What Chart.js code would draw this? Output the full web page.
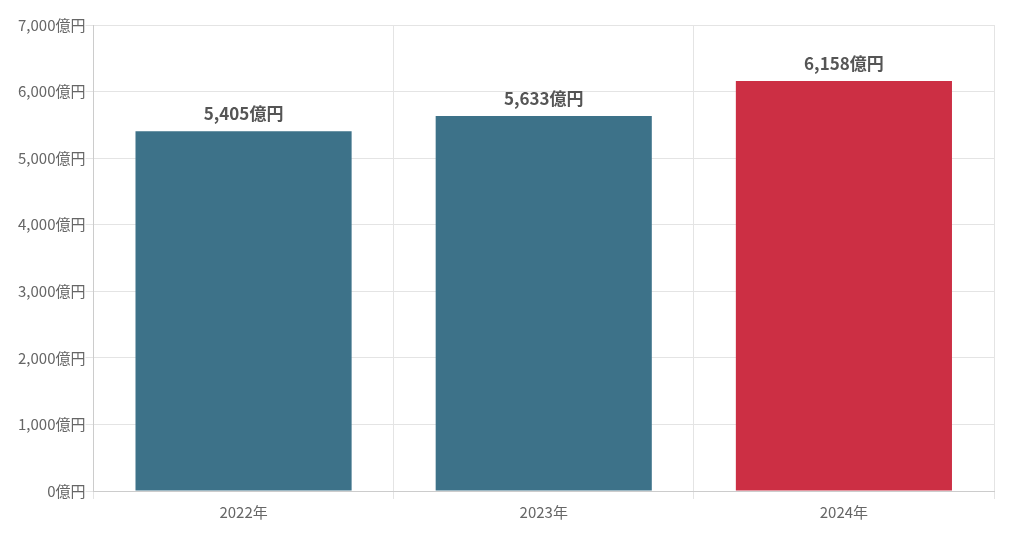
<!DOCTYPE html>
<html><head><meta charset="utf-8">
<script src="https://cdn.jsdelivr.net/npm/chart.js@4"></script>
<style>html,body{margin:0;padding:0;background:#fff}#w{width:1024px;height:537px}</style>
</head><body><div id="w"><canvas id="c"></canvas></div>
<script>
const categories = ["2022年","2023年","2024年"];
const values = [5405, 5633, 6158];
const barColors = ["#3d7289","#3d7289","#cc2f44"];
const yTicks = [0,1000,2000,3000,4000,5000,6000,7000];
const fmt = v => v.toLocaleString('en-US') + '億円';
const FONT = "'Noto Sans CJK JP','Noto Sans',sans-serif";
const labelPlugin = {
  id:'lbl',
  afterDatasetsDraw(chart){
    const ctx = chart.ctx; const meta = chart.getDatasetMeta(0);
    ctx.save(); ctx.font = "bold 17px " + FONT; ctx.fillStyle = "#555";
    ctx.textAlign = "center"; ctx.textBaseline = "bottom";
    meta.data.forEach((b,i)=>{ ctx.fillText(fmt(values[i]), b.x, b.y - 9); });
    ctx.restore();
  }
};
new Chart(document.getElementById('c'), {
  type:'bar',
  data:{labels:categories, datasets:[{data:values, backgroundColor:barColors, barPercentage:0.72, categoryPercentage:1}]},
  options:{
    responsive:true, maintainAspectRatio:false, animation:false,
    layout:{padding:{top:25,right:30,bottom:12,left:18}},
    plugins:{legend:{display:false}, tooltip:{enabled:false}},
    scales:{
      x:{grid:{color:'#e4e4e4', offset:true, tickLength:8}, border:{color:'#ccc'},
         ticks:{color:'#666', font:{size:15, family:FONT}, padding:4}},
      y:{min:0, max:7000, afterBuildTicks(a){a.ticks = yTicks.map(v=>({value:v}));},
         grid:{color:'#e4e4e4', tickLength:8}, border:{color:'#ccc'},
         ticks:{color:'#666', font:{size:15, family:FONT}, callback:v=>fmt(v), padding:0}}
    }
  },
  plugins:[labelPlugin]
});
</script></body></html>
